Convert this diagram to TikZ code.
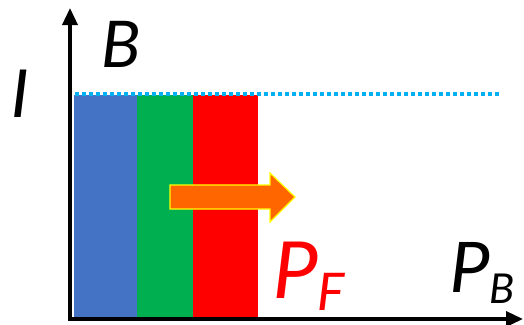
\documentclass[tikz,border=0pt]{standalone}
\usepackage{fontspec}
\setmainfont{Carlito}
\usetikzlibrary{arrows.meta}
\definecolor{barblue}{HTML}{4472C4}
\definecolor{bargreen}{HTML}{00B050}
\definecolor{barred}{HTML}{FF0000}
\definecolor{dotcyan}{HTML}{00B0F0}
\definecolor{arroworange}{HTML}{FF6600}
\definecolor{arrowyellow}{HTML}{FFFF00}
\begin{document}
\begin{tikzpicture}[x=1pt,y=-1pt,
  axis/.style={line width=3.5pt,-{Triangle[width=15pt,length=17pt]}},
  lbl/.style={inner sep=0pt,anchor=base west,font=\itshape}]
\useasboundingbox (0,0) rectangle (524,324);
% bars
\fill[barblue] (74,95) rectangle (137,318);
\fill[bargreen] (137,95) rectangle (193,318);
\fill[barred] (193,95) rectangle (258,318);
% dotted level line
\draw[dotcyan,line width=4pt,dash pattern=on 4pt off 3pt] (75,93.5) -- (500,93.5);
% orange arrow
\draw[arrowyellow,fill=arroworange,line width=1.2pt,line join=miter]
  (170,185) -- (270,185) -- (270,173) -- (295,197) -- (270,222) -- (270,209) -- (170,209) -- cycle;
% axes
\coordinate (ytop) at (70,8);
\coordinate (xend) at (523,319);
\draw[axis] (70,321) -- (ytop);
\draw[axis] (68,319) -- (xend);
% labels
\node[lbl] (B) at (101,67) {\fontsize{72}{72}\selectfont B};
\node[lbl] (I) at (10,117) {\fontsize{74}{74}\selectfont I};
\node[lbl,text=barred] (PF) at (272,298) {\fontsize{88}{88}\selectfont P\raisebox{-12pt}{\fontsize{58}{58}\selectfont F}};
\node[lbl] (PB) at (449,292) {\fontsize{78}{78}\selectfont P\raisebox{-11pt}{\fontsize{46}{46}\selectfont B}};
\end{tikzpicture}
\end{document}
